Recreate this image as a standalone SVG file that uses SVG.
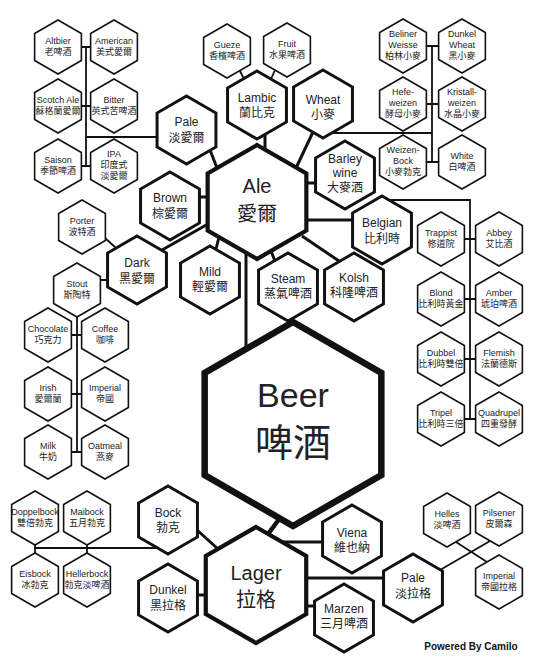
<svg xmlns="http://www.w3.org/2000/svg" xmlns:xlink="http://www.w3.org/1999/xlink" width="536" height="664" viewBox="0 0 536 664">
<style>
.bg{fill:#fff}
.hx{fill:#fff;stroke:#111;stroke-linejoin:miter}
.s{stroke-width:1.6}
.m{stroke-width:3}
.l{stroke-width:4.2}
.b{stroke-width:6.5}
.c1{fill:none;stroke:#111;stroke-width:1.8}
.c2{fill:none;stroke:#111;stroke-width:3}
.c3{fill:none;stroke:#111;stroke-width:4.5}
text{font-family:"Liberation Sans","Noto Sans CJK TC",sans-serif;text-anchor:middle;fill:#222}
.ts{font-size:9px}
.tm{font-size:12px}
.tl{font-size:20px}
.tb{font-size:34px}
.tbc{font-size:38px}
.pw{font-size:10px;font-weight:bold;fill:#111}
</style>
<defs>
<polygon id="hS" points="0,-27 23.38,-13.5 23.38,13.5 0,27 -23.38,13.5 -23.38,-13.5"/>
<polygon id="hM" points="0,-34 29.44,-17 29.44,17 0,34 -29.44,17 -29.44,-17"/>
<polygon id="hA" points="0,-57 49.36,-28.5 49.36,28.5 0,57 -49.36,28.5 -49.36,-28.5"/>
<polygon id="hL" points="0,-58 50.23,-29 50.23,29 0,58 -50.23,29 -50.23,-29"/>
<polygon id="hB" points="0,-102 88.33,-51 88.33,51 0,102 -88.33,51 -88.33,-51"/>
</defs>
<rect class="bg" width="536" height="664"/>

<g id="connectors">
<!-- thin tree lines -->
<path class="c1" d="M86,47 V166 M81,47 H91 M81,106 H91 M81,166 H91 M86,137 H158"/>
<path class="c1" d="M240,71 L244,79 M275,70 L271,79"/>
<path class="c1" d="M432,46 V162 M426,46 H438 M426,104 H438 M426,162 H438 M332,133 H432"/>
<path class="c1" d="M388,200 H470 V419 M464,239 H476 M464,299 H476 M464,359 H476 M464,419 H476"/>
<path class="c1" d="M105,238 L116,248 M100,280 H108"/>
<path class="c1" d="M77,317 V452 M72,335 H82 M72,394 H82 M72,452 H82"/>
<path class="c1" d="M35,548 H158 M35,544 V554 M87,544 V554"/>
<path class="c1" d="M440,570 L490,541 M456,542 L487,562"/>
<!-- medium connectors -->
<path class="c2" d="M210,150 L217,168"/>
<path class="c2" d="M265,134 V150"/>
<path class="c2" d="M313,132 L296,168"/>
<path class="c2" d="M306,183 H316"/>
<path class="c2" d="M306,220 H354"/>
<path class="c2" d="M199,197 H208"/>
<path class="c2" d="M162,250 L208,224"/>
<path class="c2" d="M219,237 L216,249"/>
<path class="c2" d="M271,251 L275,261"/>
<path class="c2" d="M302,236 L339,261"/>
<path class="c2" d="M246,252 V350"/>
<path class="c2" d="M197,530 L218,549"/>
<path class="c2" d="M197,595 H206"/>
<path class="c2" d="M283,542 H323"/>
<path class="c2" d="M306,578 H384"/>
<path class="c2" d="M306,606 H315"/>
<path class="c3" d="M280,518 L268,534"/>
</g>

<!-- main -->
<g id="beer"><use href="#hB" x="293" y="424" class="hx b"/><text class="tb" x="293" y="407">Beer</text><text class="tbc" x="293" y="456">啤酒</text></g>
<g id="ale"><use href="#hA" x="257" y="202" class="hx l"/><text class="tl" x="257" y="193">Ale</text><text class="tl" x="257" y="221">愛爾</text></g>
<g id="lager"><use href="#hL" x="256" y="585" class="hx l"/><text class="tl" x="256" y="580">Lager</text><text class="tl" x="256" y="607">拉格</text></g>

<!-- ale children -->
<g id="pale-ale"><use href="#hM" x="186.5" y="130" class="hx m"/><text class="tm" x="186.5" y="126">Pale</text><text class="tm" x="186.5" y="142">淡愛爾</text></g>
<g id="brown"><use href="#hM" x="170" y="206" class="hx m"/><text class="tm" x="170" y="202">Brown</text><text class="tm" x="170" y="218">棕愛爾</text></g>
<g id="dark"><use href="#hM" x="137" y="270" class="hx m"/><text class="tm" x="137" y="267">Dark</text><text class="tm" x="137" y="283">黑愛爾</text></g>
<g id="mild"><use href="#hM" x="210" y="280" class="hx m"/><text class="tm" x="210" y="276">Mild</text><text class="tm" x="210" y="291">輕愛爾</text></g>
<g id="steam"><use href="#hM" x="288" y="287" class="hx m"/><text class="tm" x="288" y="283">Steam</text><text class="tm" x="288" y="298">蒸氣啤酒</text></g>
<g id="kolsh"><use href="#hM" x="354" y="287" class="hx m"/><text class="tm" x="354" y="282">Kolsh</text><text class="tm" x="354" y="297">科隆啤酒</text></g>
<g id="belgian"><use href="#hM" x="382" y="230" class="hx m"/><text class="tm" x="382" y="227">Belgian</text><text class="tm" x="382" y="243">比利時</text></g>
<g id="barley-wine"><use href="#hM" x="345" y="175" class="hx m"/><text class="tm" x="345" y="163">Barley</text><text class="tm" x="345" y="177">wine</text><text class="tm" x="345" y="192">大麥酒</text></g>
<g id="wheat"><use href="#hM" x="323" y="104" class="hx m"/><text class="tm" x="323" y="104">Wheat</text><text class="tm" x="323" y="119">小麥</text></g>
<g id="lambic"><use href="#hM" x="257" y="105" class="hx m"/><text class="tm" x="257" y="102">Lambic</text><text class="tm" x="257" y="117">蘭比克</text></g>

<!-- lager children -->
<g id="bock"><use href="#hM" x="168" y="520" class="hx m"/><text class="tm" x="168" y="517">Bock</text><text class="tm" x="168" y="532">勃克</text></g>
<g id="dunkel"><use href="#hM" x="168" y="598" class="hx m"/><text class="tm" x="168" y="594">Dunkel</text><text class="tm" x="168" y="610">黑拉格</text></g>
<g id="viena"><use href="#hM" x="352" y="539" class="hx m"/><text class="tm" x="352" y="537">Viena</text><text class="tm" x="352" y="552">維也納</text></g>
<g id="marzen"><use href="#hM" x="344" y="618" class="hx m"/><text class="tm" x="344" y="613">Marzen</text><text class="tm" x="344" y="628">三月啤酒</text></g>
<g id="pale-lager"><use href="#hM" x="413" y="588" class="hx m"/><text class="tm" x="413" y="582">Pale</text><text class="tm" x="413" y="598">淡拉格</text></g>

<!-- pale ale tree -->
<g id="altbier"><use href="#hS" x="58" y="47" class="hx s"/><text class="ts" x="58" y="44">Altbier</text><text class="ts" x="58" y="55">老啤酒</text></g>
<g id="american"><use href="#hS" x="114" y="47" class="hx s"/><text class="ts" x="114" y="44">American</text><text class="ts" x="114" y="55">美式愛爾</text></g>
<g id="scotch-ale"><use href="#hS" x="58" y="106" class="hx s"/><text class="ts" x="58" y="103">Scotch Ale</text><text class="ts" x="58" y="114">蘇格蘭愛爾</text></g>
<g id="bitter"><use href="#hS" x="114" y="106" class="hx s"/><text class="ts" x="114" y="103">Bitter</text><text class="ts" x="114" y="114">英式苦啤酒</text></g>
<g id="saison"><use href="#hS" x="58" y="166" class="hx s"/><text class="ts" x="58" y="163">Saison</text><text class="ts" x="58" y="174">季節啤酒</text></g>
<g id="ipa"><use href="#hS" x="114" y="166" class="hx s"/><text class="ts" x="114" y="157">IPA</text><text class="ts" x="114" y="168">印度式</text><text class="ts" x="114" y="179">淡愛爾</text></g>

<!-- lambic tree -->
<g id="gueze"><use href="#hS" x="227" y="51" class="hx s"/><text class="ts" x="227" y="48">Gueze</text><text class="ts" x="227" y="59">香檳啤酒</text></g>
<g id="fruit"><use href="#hS" x="287" y="50" class="hx s"/><text class="ts" x="287" y="47">Fruit</text><text class="ts" x="287" y="58">水果啤酒</text></g>

<!-- wheat tree -->
<g id="beliner-weisse"><use href="#hS" x="403" y="46" class="hx s"/><text class="ts" x="403" y="37">Beliner</text><text class="ts" x="403" y="48">Weisse</text><text class="ts" x="403" y="59">柏林小麥</text></g>
<g id="dunkel-wheat"><use href="#hS" x="462" y="46" class="hx s"/><text class="ts" x="462" y="37">Dunkel</text><text class="ts" x="462" y="48">Wheat</text><text class="ts" x="462" y="59">黑小麥</text></g>
<g id="hefeweizen"><use href="#hS" x="403" y="104" class="hx s"/><text class="ts" x="403" y="95">Hefe-</text><text class="ts" x="403" y="106">weizen</text><text class="ts" x="403" y="117">酵母小麥</text></g>
<g id="kristallweizen"><use href="#hS" x="462" y="104" class="hx s"/><text class="ts" x="462" y="95">Kristall-</text><text class="ts" x="462" y="106">weizen</text><text class="ts" x="462" y="117">水晶小麥</text></g>
<g id="weizenbock"><use href="#hS" x="403" y="162" class="hx s"/><text class="ts" x="403" y="153">Weizen-</text><text class="ts" x="403" y="164">Bock</text><text class="ts" x="403" y="175">小麥勃克</text></g>
<g id="white"><use href="#hS" x="462" y="162" class="hx s"/><text class="ts" x="462" y="159">White</text><text class="ts" x="462" y="170">白啤酒</text></g>

<!-- belgian tree -->
<g id="trappist"><use href="#hS" x="441" y="239" class="hx s"/><text class="ts" x="441" y="236">Trappist</text><text class="ts" x="441" y="247">修道院</text></g>
<g id="abbey"><use href="#hS" x="499" y="239" class="hx s"/><text class="ts" x="499" y="236">Abbey</text><text class="ts" x="499" y="247">艾比酒</text></g>
<g id="blond"><use href="#hS" x="441" y="299" class="hx s"/><text class="ts" x="441" y="296">Blond</text><text class="ts" x="441" y="307">比利時黃金</text></g>
<g id="amber"><use href="#hS" x="499" y="299" class="hx s"/><text class="ts" x="499" y="296">Amber</text><text class="ts" x="499" y="307">琥珀啤酒</text></g>
<g id="dubbel"><use href="#hS" x="441" y="359" class="hx s"/><text class="ts" x="441" y="356">Dubbel</text><text class="ts" x="441" y="367">比利時雙倍</text></g>
<g id="flemish"><use href="#hS" x="499" y="359" class="hx s"/><text class="ts" x="499" y="356">Flemish</text><text class="ts" x="499" y="367">法蘭德斯</text></g>
<g id="tripel"><use href="#hS" x="441" y="419" class="hx s"/><text class="ts" x="441" y="416">Tripel</text><text class="ts" x="441" y="427">比利時三倍</text></g>
<g id="quadrupel"><use href="#hS" x="499" y="419" class="hx s"/><text class="ts" x="499" y="416">Quadrupel</text><text class="ts" x="499" y="427">四重發酵</text></g>

<!-- dark tree -->
<g id="porter"><use href="#hS" x="82" y="227" class="hx s"/><text class="ts" x="82" y="224">Porter</text><text class="ts" x="82" y="235">波特酒</text></g>
<g id="stout"><use href="#hS" x="77" y="290" class="hx s"/><text class="ts" x="77" y="287">Stout</text><text class="ts" x="77" y="298">斯陶特</text></g>
<g id="chocolate"><use href="#hS" x="48" y="335" class="hx s"/><text class="ts" x="48" y="332">Chocolate</text><text class="ts" x="48" y="343">巧克力</text></g>
<g id="coffee"><use href="#hS" x="105" y="335" class="hx s"/><text class="ts" x="105" y="332">Coffee</text><text class="ts" x="105" y="343">咖啡</text></g>
<g id="irish"><use href="#hS" x="48" y="394" class="hx s"/><text class="ts" x="48" y="391">Irish</text><text class="ts" x="48" y="402">愛爾蘭</text></g>
<g id="imperial-stout"><use href="#hS" x="105" y="394" class="hx s"/><text class="ts" x="105" y="391">Imperial</text><text class="ts" x="105" y="402">帝國</text></g>
<g id="milk"><use href="#hS" x="48" y="452" class="hx s"/><text class="ts" x="48" y="449">Milk</text><text class="ts" x="48" y="460">牛奶</text></g>
<g id="oatmeal"><use href="#hS" x="105" y="452" class="hx s"/><text class="ts" x="105" y="449">Oatmeal</text><text class="ts" x="105" y="460">燕麥</text></g>

<!-- bock tree -->
<g id="doppelbock"><use href="#hS" x="35" y="518" class="hx s"/><text class="ts" x="35" y="515">Doppelbock</text><text class="ts" x="35" y="526">雙倍勃克</text></g>
<g id="maibock"><use href="#hS" x="87" y="518" class="hx s"/><text class="ts" x="87" y="515">Maibock</text><text class="ts" x="87" y="526">五月勃克</text></g>
<g id="eisbock"><use href="#hS" x="35" y="580" class="hx s"/><text class="ts" x="35" y="577">Eisbock</text><text class="ts" x="35" y="588">冰勃克</text></g>
<g id="hellerbock"><use href="#hS" x="87" y="580" class="hx s"/><text class="ts" x="87" y="577">Hellerbock</text><text class="ts" x="87" y="588">勃克淡啤酒</text></g>

<!-- pale lager tree -->
<g id="helles"><use href="#hS" x="447" y="520" class="hx s"/><text class="ts" x="447" y="517">Helles</text><text class="ts" x="447" y="528">淡啤酒</text></g>
<g id="pilsener"><use href="#hS" x="499" y="519" class="hx s"/><text class="ts" x="499" y="516">Pilsener</text><text class="ts" x="499" y="527">皮爾森</text></g>
<g id="imperial-lager"><use href="#hS" x="499" y="582" class="hx s"/><text class="ts" x="499" y="579">Imperial</text><text class="ts" x="499" y="590">帝國拉格</text></g>

<text class="pw" x="471" y="650">Powered By Camilo</text>
</svg>
